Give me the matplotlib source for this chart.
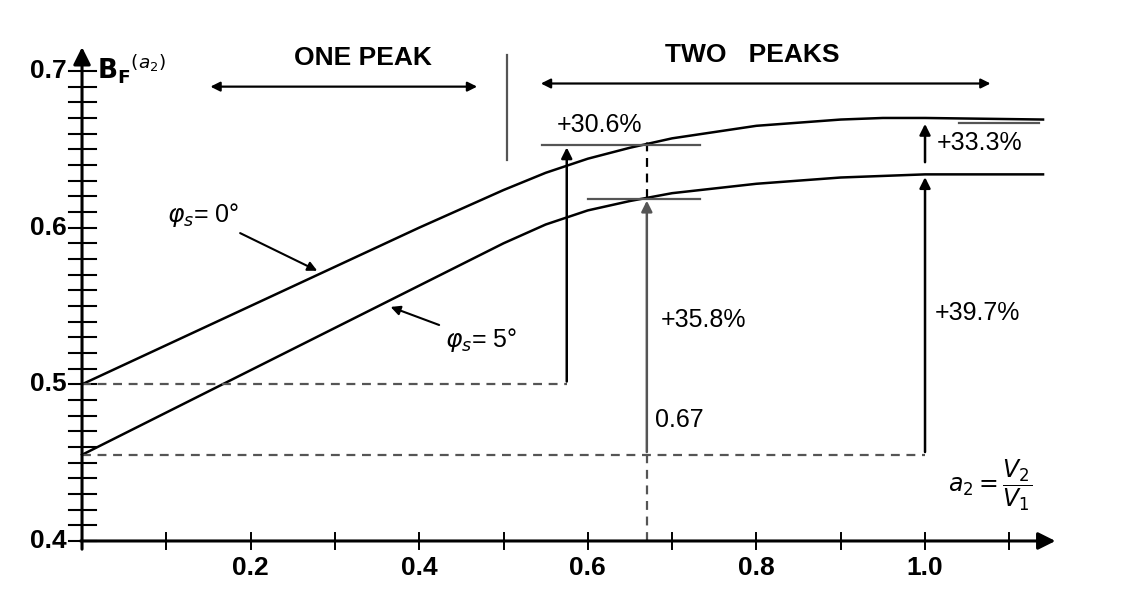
import matplotlib.pyplot as plt

# data
a2 = [0.0, 0.1, 0.2, 0.3, 0.4, 0.5, 0.55, 0.6, 0.65, 0.7, 0.75, 0.8, 0.85, 0.9, 0.95, 1.0, 1.14]
bf_0deg = [0.500, 0.525, 0.550, 0.575, 0.600, 0.624, 0.635, 0.644, 0.651, 0.657, 0.661, 0.665,
           0.667, 0.669, 0.670, 0.670, 0.669]
bf_5deg = [0.455, 0.482, 0.509, 0.536, 0.563, 0.590, 0.602, 0.611, 0.617, 0.622, 0.625, 0.628,
           0.630, 0.632, 0.633, 0.634, 0.634]

xticks = [0.2, 0.4, 0.6, 0.8, 1.0]
xtick_labels = ["0.2", "0.4", "0.6", "0.8", "1.0"]
yticks = [0.4, 0.5, 0.6, 0.7]
ytick_labels = ["0.4", "0.5", "0.6", "0.7"]

plt.rcParams['font.family'] = ['Liberation Sans', 'DejaVu Sans']

fig = plt.figure(figsize=(11.27, 5.98), dpi=100)
ax = fig.add_axes([0, 0, 1, 1])
ax.set_xlim(-0.0973, 1.2396)
ax.set_ylim(0.3636, 0.7453)
ax.axis('off')

k = 'black'
g = '#555555'
fs = 19

# axes with arrows
ax.annotate('', xy=(0, 0.717), xytext=(0, 0.393),
            arrowprops=dict(arrowstyle='-|>', color=k, lw=2.2, mutation_scale=26))
ax.annotate('', xy=(1.158, 0.4), xytext=(-0.005, 0.4),
            arrowprops=dict(arrowstyle='-|>', color=k, lw=2.2, mutation_scale=26))

# y ticks every 0.01
for i in range(31):
    y = 0.4 + i * 0.01
    ax.plot([-0.016, 0.016], [y, y], color=k, lw=1.5)
# x ticks every 0.1
for i in range(1, 12):
    ax.plot([i * 0.1, i * 0.1], [0.395, 0.405], color=k, lw=1.4)

for x, t in zip(xticks, xtick_labels):
    ax.text(x, 0.3828, t, ha='center', va='center', fontsize=fs, fontweight='bold')
for y, t in zip(yticks, ytick_labels):
    ax.text(-0.018, y, t, ha='right', va='center', fontsize=fs, fontweight='bold')

# curves
ax.plot(a2, bf_0deg, color=k, lw=1.8)
ax.plot(a2, bf_5deg, color=k, lw=1.8)

# dashed reference lines
ax.plot([0, 0.575], [0.5, 0.5], color=g, lw=1.6, ls=(0, (4, 3)))
ax.plot([0, 1.0], [0.455, 0.455], color=g, lw=1.6, ls=(0, (4, 3)))
ax.plot([0.67, 0.67], [0.4, 0.455], color=g, lw=1.6, ls=(0, (4, 3)))
ax.plot([0.67, 0.67], [0.619, 0.655], color=k, lw=1.6, ls=(0, (4, 3)))

# vertical arrows
arr = dict(arrowstyle='-|>', color=k, lw=1.8, mutation_scale=16)
ax.annotate('', xy=(0.575, 0.653), xytext=(0.575, 0.5), arrowprops=arr)
ax.annotate('', xy=(0.67, 0.619), xytext=(0.67, 0.455),
            arrowprops=dict(arrowstyle='-|>', color=g, lw=1.8, mutation_scale=16))
ax.annotate('', xy=(1.0, 0.634), xytext=(1.0, 0.455), arrowprops=arr)
ax.annotate('', xy=(1.0, 0.668), xytext=(1.0, 0.640), arrowprops=arr)

# short horizontal markers
ax.plot([0.546, 0.733], [0.653, 0.653], color=g, lw=1.6)
ax.plot([0.60, 0.733], [0.618, 0.618], color=g, lw=1.6)
ax.plot([1.04, 1.135], [0.667, 0.667], color=g, lw=1.6)

# one / two peak regions
ax.plot([0.504, 0.504], [0.643, 0.710], color=g, lw=1.6)
dbl = dict(arrowstyle='<|-|>', color=k, lw=1.6, mutation_scale=14)
ax.annotate('', xy=(0.472, 0.690), xytext=(0.149, 0.690), arrowprops=dbl)
ax.annotate('', xy=(1.081, 0.692), xytext=(0.541, 0.692), arrowprops=dbl)
ax.text(0.333, 0.708, "ONE PEAK", ha='center', va='center', fontsize=fs, fontweight='bold')
ax.text(0.795, 0.710, "TWO   PEAKS", ha='center', va='center', fontsize=fs, fontweight='bold')

# percentages
ax.text(0.563, 0.6655, "+30.6%", ha='left', va='center', fontsize=18)
ax.text(1.014, 0.654, "+33.3%", ha='left', va='center', fontsize=18)
ax.text(0.686, 0.541, "+35.8%", ha='left', va='center', fontsize=18)
ax.text(1.012, 0.5455, "+39.7%", ha='left', va='center', fontsize=18)
ax.text(0.680, 0.477, "0.67", ha='left', va='center', fontsize=18)

# labels
ax.text(0.018, 0.6955, r"$\mathbf{B_F}^{(a_2)}$", ha='left', va='baseline', fontsize=19)
ax.text(1.077, 0.4357, r"$a_2 = \dfrac{V_2}{V_1}$", ha='center', va='center', fontsize=17)

lead = dict(arrowstyle='-|>', color=k, lw=1.5, mutation_scale=14)
ax.annotate(r"$\varphi_s$= 0°", xy=(0.282, 0.5717), xytext=(0.101, 0.608),
            fontsize=18, va='center', ha='left', arrowprops=lead)
ax.annotate(r"$\varphi_s$= 5°", xy=(0.363, 0.550), xytext=(0.430, 0.528),
            fontsize=18, va='center', ha='left', arrowprops=lead)

fig.savefig('out.png', dpi=100)
